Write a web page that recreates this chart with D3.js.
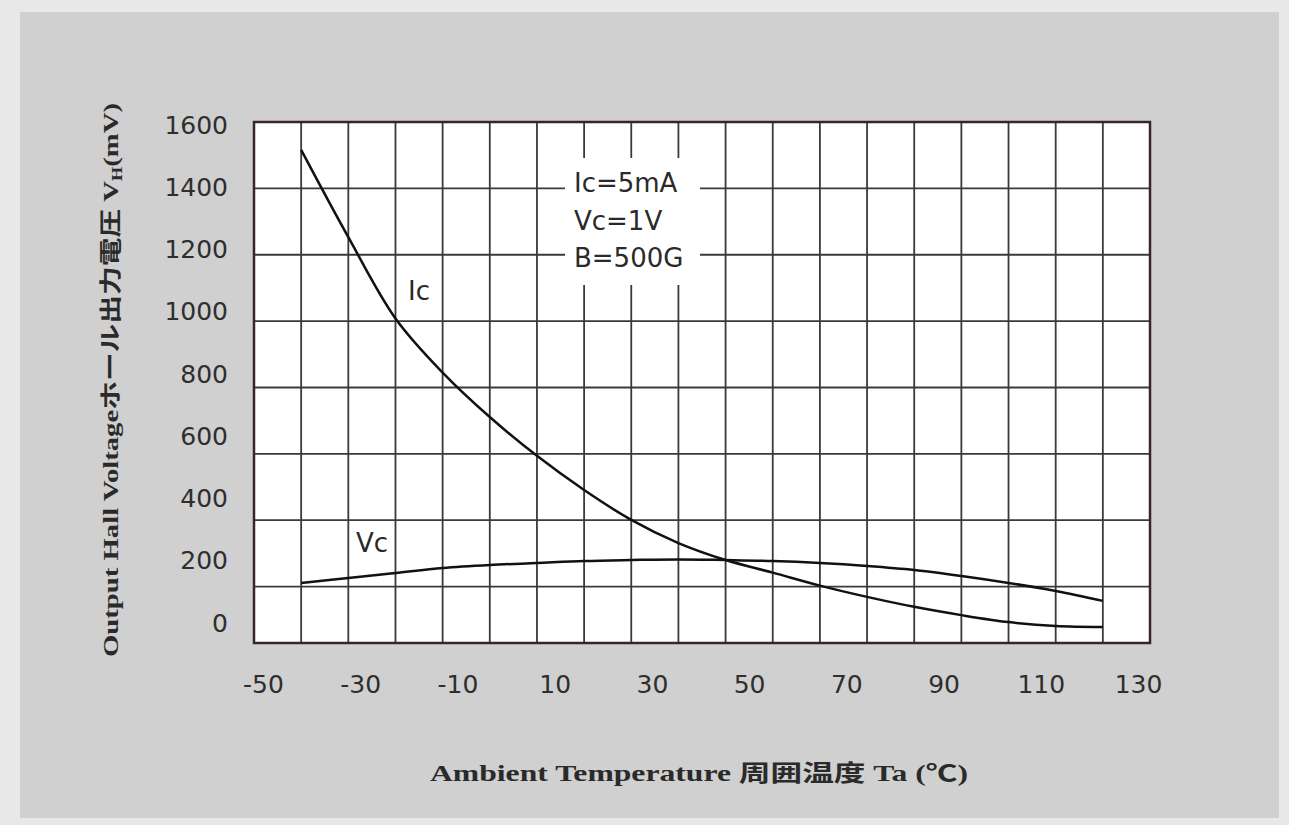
<!DOCTYPE html>
<html>
<head>
<meta charset="utf-8">
<script src="https://cdn.jsdelivr.net/npm/d3@7"></script>
<style>
  body { margin: 0; background: #e8e8e8; }
</style>
</head>
<body>
<script>
// data
var temps = [-40, -30, -20, -10, 0, 10, 20, 30, 40, 50, 60, 70, 80, 90, 100, 110, 120, 130];
var icVals = [1516, 1253, 1008, 845, 711, 594, 491, 401, 331, 280, 242, 203, 169, 139, 114, 93, 81, 78];
var vcVals = [211, 226, 241, 256, 265, 271, 277, 280, 282, 280, 277, 271, 262, 250, 232, 211, 187, 157];

var xTicks = [-50, -30, -10, 10, 30, 50, 70, 90, 110, 130];
var yTicks = [0, 200, 400, 600, 800, 1000, 1200, 1400, 1600];
var gridX = d3.range(-40, 140, 10);
var gridY = d3.range(200, 1601, 200);
var noteLines = ['Ic=5mA', 'Vc=1V', 'B=500G'];

var W = 1289, H = 825;
var frame = { left: 254, right: 1150, top: 122, bottom: 643 };

var svg = d3.select('body').append('svg')
  .attr('width', W)
  .attr('height', H);

// grey panel
svg.append('rect')
  .attr('x', 20).attr('y', 12)
  .attr('width', 1259).attr('height', 806)
  .attr('fill', '#d0d0d0');

// grid scales (the printed labels drift a bit from the grid, so they get their own scales)
var x = d3.scaleLinear().domain([-50, 140]).range([frame.left, frame.right]);
var y = d3.scaleLinear().domain([30, 1600]).range([frame.bottom, frame.top]);
var xLab = d3.scaleLinear().domain([-50, 130]).range([263, 1138]);
var yLab = d3.scaleLinear().domain([0, 1600]).range([622, 124]);

svg.append('rect')
  .attr('x', frame.left).attr('y', frame.top)
  .attr('width', frame.right - frame.left)
  .attr('height', frame.bottom - frame.top)
  .attr('fill', '#fff');

var grid = svg.append('g')
  .attr('stroke', '#3a3a3a')
  .attr('stroke-width', 1.8);

grid.selectAll('.vx').data(gridX).enter().append('line')
  .attr('x1', function(d){ return x(d); })
  .attr('x2', function(d){ return x(d); })
  .attr('y1', frame.top).attr('y2', frame.bottom);

grid.selectAll('.hy').data(gridY).enter().append('line')
  .attr('x1', frame.left).attr('x2', frame.right)
  .attr('y1', function(d){ return y(d); })
  .attr('y2', function(d){ return y(d); });

// box behind the conditions text
svg.append('rect')
  .attr('x', 565).attr('y', 158)
  .attr('width', 135).attr('height', 127)
  .attr('fill', '#fff');

svg.append('g')
  .selectAll('text').data(noteLines).enter().append('text')
  .attr('x', 574)
  .attr('y', function(d, i){ return 183 + i * 37.5; })
  .attr('dy', '0.36em')
  .attr('font-family', 'DejaVu Sans')
  .attr('font-size', 26)
  .attr('fill', '#2a2a2a')
  .text(function(d){ return d; });

// frame
svg.append('rect')
  .attr('x', frame.left).attr('y', frame.top)
  .attr('width', frame.right - frame.left)
  .attr('height', frame.bottom - frame.top)
  .attr('fill', 'none')
  .attr('stroke', '#3b2424')
  .attr('stroke-width', 2.5);

// curves
var line = d3.line()
  .x(function(d){ return x(d[0]); })
  .y(function(d){ return y(d[1]); })
  .curve(d3.curveCatmullRom.alpha(0.5));

[icVals, vcVals].forEach(function(vals){
  svg.append('path')
    .datum(temps.map(function(t, i){ return [t, vals[i]]; }))
    .attr('d', line)
    .attr('fill', 'none')
    .attr('stroke', '#111')
    .attr('stroke-width', 2.5);
});

svg.append('text').attr('x', 419).attr('y', 291).attr('dy', '0.36em')
  .attr('text-anchor', 'middle')
  .attr('font-family', 'DejaVu Sans').attr('font-size', 26).attr('fill', '#2a2a2a')
  .text('Ic');
svg.append('text').attr('x', 372).attr('y', 543).attr('dy', '0.36em')
  .attr('text-anchor', 'middle')
  .attr('font-family', 'DejaVu Sans').attr('font-size', 26).attr('fill', '#2a2a2a')
  .text('Vc');

// axes
var plain = function(d){ return String(d); };
var xAxis = svg.append('g')
  .attr('transform', 'translate(0,684)')
  .call(d3.axisBottom(xLab).tickValues(xTicks).tickSize(0).tickFormat(plain));
var yAxis = svg.append('g')
  .attr('transform', 'translate(228,0)')
  .call(d3.axisLeft(yLab).tickValues(yTicks).tickSize(0).tickFormat(plain));

[xAxis, yAxis].forEach(function(ax){
  ax.select('.domain').remove();
  ax.selectAll('text')
    .attr('font-family', 'DejaVu Sans')
    .attr('font-size', 25)
    .attr('fill', '#2e2e2e')
    .attr('dy', '0.36em');
});
xAxis.selectAll('text').attr('y', 0);
yAxis.selectAll('text').attr('x', 0);

// axis titles
svg.append('text')
  .attr('x', 430).attr('y', 773).attr('dy', '0.36em')
  .attr('textLength', 538)
  .attr('lengthAdjust', 'spacingAndGlyphs')
  .attr('font-family', 'Liberation Serif, Noto Sans CJK JP')
  .attr('font-weight', 'bold')
  .attr('font-size', 23)
  .attr('fill', '#2a2a2a')
  .text('Ambient Temperature 周囲温度  Ta (℃)');

var yt = svg.append('text')
  .attr('transform', 'translate(110,380) rotate(-90)')
  .attr('x', -277).attr('dy', '0.36em')
  .attr('textLength', 554)
  .attr('lengthAdjust', 'spacingAndGlyphs')
  .attr('font-family', 'Liberation Serif, Noto Sans CJK JP')
  .attr('font-weight', 'bold')
  .attr('font-size', 22)
  .attr('fill', '#2a2a2a');
yt.append('tspan').text('Output Hall Voltageホール出力電圧  V');
yt.append('tspan').attr('font-size', 14).attr('dy', '4').text('H');
yt.append('tspan').attr('dy', '-4').text('(mV)');
</script>
</body>
</html>
